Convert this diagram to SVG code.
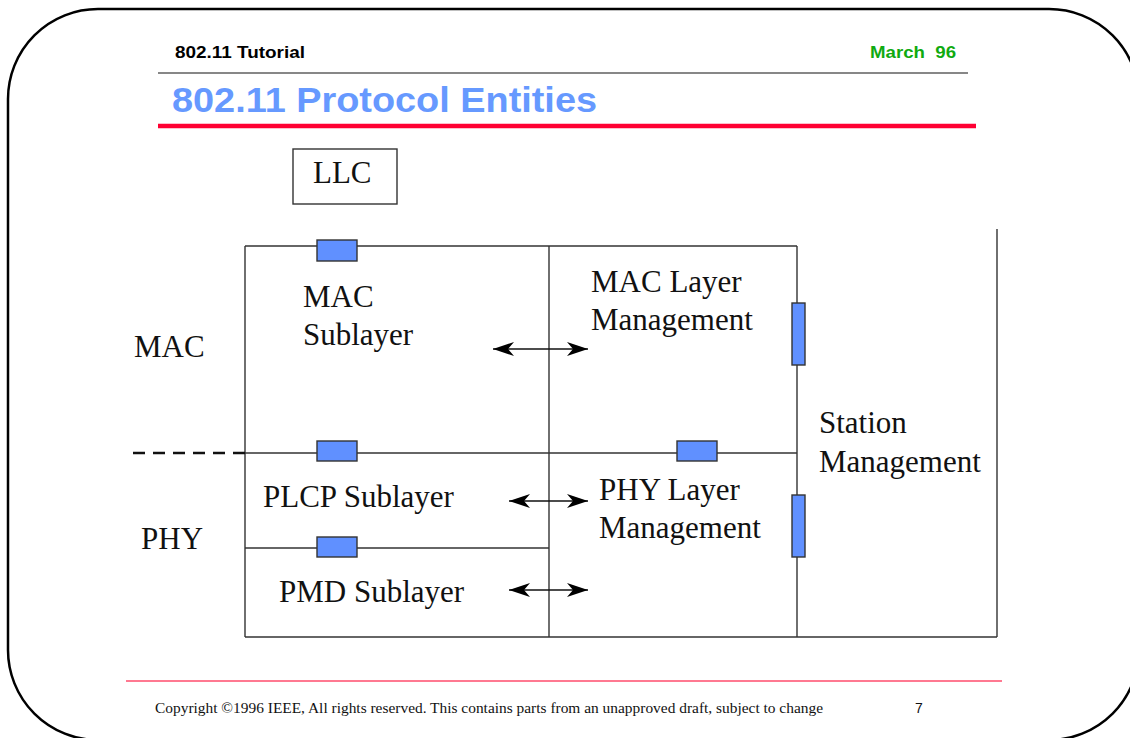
<svg xmlns="http://www.w3.org/2000/svg" width="1130" height="738" viewBox="0 0 1130 738">
<style>
.ln{stroke:#333;stroke-width:1.4;fill:none}
.sap{fill:#6090ff;stroke:#333;stroke-width:1.4}
.t{font-family:"Liberation Serif","Times New Roman",serif;font-size:31px;fill:#111}
.hd{font-family:"Liberation Sans",Arial,sans-serif;font-weight:bold;font-size:16px}
.ar{stroke:#111;stroke-width:1.4;fill:none;marker-start:url(#ah);marker-end:url(#ah)}
</style>
<defs>
<marker id="ah" markerUnits="userSpaceOnUse" markerWidth="24" markerHeight="16" refX="21" refY="8" orient="auto-start-reverse" overflow="visible">
<path d="M0,1 L21,8 L0,15 L6,8 z" fill="#000"/>
</marker>
</defs>
<rect x="8" y="9" width="1131" height="731" rx="90" ry="90" fill="none" stroke="#000" stroke-width="2.5"/>
<g id="header">
<text class="hd" x="175" y="58" textLength="130" lengthAdjust="spacingAndGlyphs">802.11 Tutorial</text>
<text class="hd" x="870" y="58" fill="#10aa10" style="white-space:pre" textLength="86" lengthAdjust="spacingAndGlyphs">March  96</text>
<line x1="158" y1="73" x2="968" y2="73" stroke="#111" stroke-width="1.2"/>
<text x="172" y="112" font-family="'Liberation Sans',Arial,sans-serif" font-weight="bold" font-size="35" fill="#6699ff" textLength="425" lengthAdjust="spacingAndGlyphs">802.11 Protocol Entities</text>
<line x1="158" y1="126" x2="976" y2="126" stroke="#ff0033" stroke-width="4.5"/>
</g>
<g id="llc">
<rect x="293" y="149" width="104" height="55" class="ln"/>
<text class="t" x="313" y="183">LLC</text>
</g>
<g id="grid">
<line class="ln" x1="245" y1="246" x2="797" y2="246"/>
<line class="ln" x1="245" y1="246" x2="245" y2="637"/>
<line class="ln" x1="549" y1="246" x2="549" y2="637"/>
<line class="ln" x1="797" y1="246" x2="797" y2="637"/>
<line class="ln" x1="997" y1="229" x2="997" y2="637"/>
<line class="ln" x1="245" y1="637" x2="997" y2="637"/>
<line class="ln" x1="245" y1="453" x2="797" y2="453"/>
<line class="ln" x1="245" y1="548" x2="549" y2="548"/>
<line x1="133" y1="453" x2="245" y2="453" stroke="#111" stroke-width="2.5" stroke-dasharray="12,8"/>
</g>
<g id="saps">
<rect class="sap" x="317" y="240" width="40" height="21"/>
<rect class="sap" x="317" y="441" width="40" height="20"/>
<rect class="sap" x="677" y="441" width="40" height="20"/>
<rect class="sap" x="317" y="537" width="40" height="20"/>
<rect class="sap" x="792" y="303" width="13" height="62"/>
<rect class="sap" x="792" y="495" width="13" height="62"/>
</g>
<g id="connectors">
<line class="ar" x1="493" y1="349" x2="588" y2="349"/>
<line class="ar" x1="509" y1="501" x2="588" y2="501"/>
<line class="ar" x1="509" y1="590" x2="588" y2="590"/>
</g>
<g id="mac-sublayer"><text class="t" x="303" y="307">MAC</text><text class="t" x="303" y="345">Sublayer</text></g>
<g id="mac-mgmt"><text class="t" x="591" y="292">MAC Layer</text><text class="t" x="591" y="330">Management</text></g>
<g id="mac-label"><text class="t" x="134" y="357">MAC</text></g>
<g id="station-mgmt"><text class="t" x="819" y="433">Station</text><text class="t" x="819" y="472">Management</text></g>
<g id="plcp"><text class="t" x="263" y="507">PLCP Sublayer</text></g>
<g id="phy-label"><text class="t" x="141" y="549">PHY</text></g>
<g id="pmd"><text class="t" x="279" y="602">PMD Sublayer</text></g>
<g id="phy-mgmt"><text class="t" x="599" y="500">PHY Layer</text><text class="t" x="599" y="538">Management</text></g>
<g id="footer">
<line x1="126" y1="681" x2="1002" y2="681" stroke="#ff4d6d" stroke-width="1.5"/>
<text x="155" y="713" font-family="'Liberation Serif','Times New Roman',serif" font-size="14" fill="#111" textLength="668" lengthAdjust="spacingAndGlyphs">Copyright ©1996 IEEE, All rights reserved. This contains parts from an unapproved draft, subject to change</text>
<text x="915" y="713" font-family="'Liberation Sans',Arial,sans-serif" font-size="14" fill="#111">7</text>
</g>
</svg>
